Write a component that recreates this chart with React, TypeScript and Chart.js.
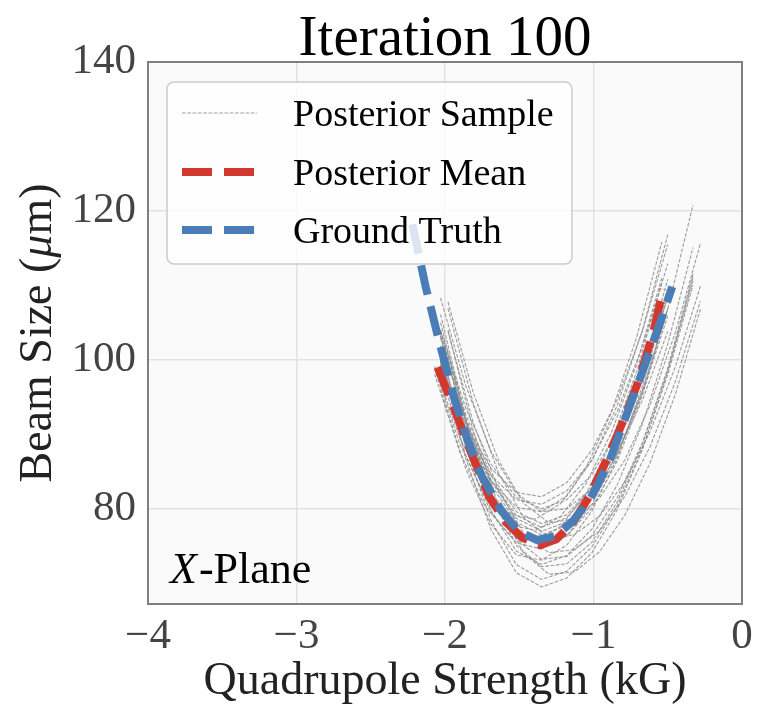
import React, { useEffect, useRef } from "react";
import { Chart, registerables } from "chart.js";

Chart.register(...registerables);

const FONT = "'Liberation Serif', 'Times New Roman', serif";

// Axis ticks
const xTicks = [-4, -3, -2, -1, 0];
const yTicks = [80, 100, 120, 140];
const xRange = [-4, 0];
const yRange = [67.2, 140];

// Ground truth curve
const truthX = [-2.22, -2.13, -2.04, -1.94, -1.85, -1.75, -1.62, -1.5, -1.38, -1.26, -1.14, -1.02, -0.9, -0.78, -0.66, -0.56, -0.47];
const truthY = [118.2, 109.8, 102.5, 95.0, 89.3, 84.3, 79.7, 76.9, 75.8, 76.3, 78.3, 81.4, 86.0, 92.5, 99.0, 104.5, 109.8];

// Posterior mean curve
const meanX = [-2.05, -1.92, -1.81, -1.7, -1.59, -1.48, -1.36, -1.25, -1.14, -1.03, -0.92, -0.81, -0.7, -0.6, -0.53];
const meanY = [99.0, 92.5, 86.8, 81.5, 78.2, 76.1, 75.1, 75.9, 78.1, 81.6, 86.2, 91.3, 97.0, 103.5, 109.5];

// Posterior sample x grids
const gridA = [-2.03, -1.86, -1.69, -1.52, -1.35, -1.18, -1.01, -0.84, -0.67, -0.5, -0.33];
const gridB = [-1.98, -1.81, -1.64, -1.47, -1.3, -1.13, -0.96, -0.79, -0.62, -0.45, -0.28];
const gridC = [-2.07, -1.9, -1.73, -1.56, -1.39, -1.22, -1.05, -0.88, -0.71, -0.54, -0.37];

// Posterior sample y values
const s1 = [103.2, 90.9, 82.1, 76.8, 75.0, 76.3, 80.1, 86.4, 95.3, 106.8, 120.8];
const s2 = [98.8, 88.7, 81.6, 77.8, 77.1, 79.0, 83.4, 90.2, 99.4, 111.0];
const s3 = [105.0, 91.8, 82.1, 75.9, 73.2, 73.6, 76.4, 81.5, 88.9, 98.6, 110.6];
const s4 = [104.0, 93.5, 86.0, 81.5, 80.0, 81.2, 84.6, 90.4, 98.5, 108.9];
const s5 = [99.4, 90.1, 83.7, 80.2, 79.6, 81.7, 86.5, 93.9, 104.0, 116.8];
const s6 = [104.0, 90.5, 80.4, 74.0, 71.2, 71.5, 74.2, 79.1, 86.1, 95.3, 106.8];
const s7 = [100.0, 86.7, 77.2, 71.4, 69.5, 70.7, 74.1, 79.9, 88.0, 98.4, 111.1];
const s8 = [103.9, 92.6, 84.5, 79.6, 78.0, 79.2, 82.9, 88.9, 97.4, 108.4];
const s9 = [99.8, 91.3, 85.4, 82.2, 81.6, 83.5, 87.9, 94.7, 103.9, 115.5];
const s10 = [103.8, 91.6, 82.5, 76.7, 74.1, 74.5, 77.0, 81.6, 88.3, 97.0, 107.9];
const s11 = [103.3, 91.6, 83.2, 78.2, 76.5, 77.7, 81.4, 87.4, 95.9, 106.9];
const s12 = [99.1, 89.5, 82.9, 79.2, 78.6, 80.7, 85.5, 92.9, 103.0, 115.8];
const s13 = [106.1, 92.1, 81.7, 75.1, 72.2, 72.6, 75.5, 80.9, 88.7, 98.9, 111.5];
const s14 = [101.9, 88.2, 78.4, 72.5, 70.5, 71.6, 74.9, 80.4, 88.1, 98.0, 110.0];
const s15 = [99.6, 90.7, 84.5, 81.2, 80.6, 82.4, 86.6, 93.1, 101.8, 112.9];
const s16 = [102.9, 91.8, 83.9, 79.1, 77.5, 78.8, 82.8, 89.5, 98.8, 110.8];
const s17 = [98.3, 87.2, 79.5, 75.4, 74.6, 76.4, 80.6, 87.1, 95.8, 106.9];
const s18 = [108.3, 96.5, 87.7, 82.1, 79.6, 80.0, 82.7, 87.6, 94.6, 103.8];
const s19 = [96.0, 85.3, 77.9, 73.8, 73.1, 75.1, 79.7, 86.8, 96.5, 108.6];
const s20 = [106.9, 94.2, 84.8, 78.8, 76.1, 76.5, 79.0, 83.6, 90.3, 99.0, 109.9];
const s21 = [103.8, 92.1, 83.7, 78.7, 77.0, 78.2, 81.6, 87.4, 95.5, 105.9];
const s22 = [98.1, 87.6, 80.3, 76.3, 75.6, 77.6, 82.0, 89.0, 98.4, 110.3];
const s23 = [107.8, 95.6, 86.5, 80.7, 78.1, 78.6, 81.4, 86.5, 93.9, 103.6, 115.6];
const s24 = [101.6, 88.9, 79.8, 74.3, 72.5, 73.7, 77.3, 83.2, 91.4, 102.1, 115.1];

const samples: { x: number[]; y: number[] }[] = [
  { x: gridA, y: s1 },
  { x: gridC, y: s2 },
  { x: gridA, y: s3 },
  { x: gridA, y: s4 },
  { x: gridA, y: s5 },
  { x: gridB, y: s6 },
  { x: gridA, y: s7 },
  { x: gridA, y: s8 },
  { x: gridA, y: s9 },
  { x: gridB, y: s10 },
  { x: gridA, y: s11 },
  { x: gridC, y: s12 },
  { x: gridA, y: s13 },
  { x: gridA, y: s14 },
  { x: gridA, y: s15 },
  { x: gridA, y: s16 },
  { x: gridA, y: s17 },
  { x: gridA, y: s18 },
  { x: gridA, y: s19 },
  { x: gridB, y: s20 },
  { x: gridA, y: s21 },
  { x: gridC, y: s22 },
  { x: gridB, y: s23 },
  { x: gridA, y: s24 },
];

const titleText = "Iteration 100";
const xTitle = "Quadrupole Strength (kG)";
const legendLabels = ["Posterior Sample", "Posterior Mean", "Ground Truth"];

const RED = "#d3382f";
const BLUE = "#4a7db6";
const GRAY = "rgba(140,140,140,0.85)";

const fmt = (v: number) => (v < 0 ? "\u2212" + Math.abs(v) : String(v));

const decorPlugin = {
  id: "decor",
  beforeDraw(chart: any) {
    const { ctx, chartArea: a } = chart;
    ctx.save();
    ctx.fillStyle = "#ffffff";
    ctx.fillRect(0, 0, chart.width, chart.height);
    ctx.fillStyle = "#fafafa";
    ctx.fillRect(a.left, a.top, a.right - a.left, a.bottom - a.top);
    ctx.restore();
  },
  afterDatasetsDraw(chart: any) {
    const { ctx, chartArea: a } = chart;
    ctx.save();
    // frame
    ctx.strokeStyle = "#808080";
    ctx.lineWidth = 2;
    ctx.strokeRect(a.left, a.top, a.right - a.left, a.bottom - a.top);

    // legend
    const lx = a.left + 19, ly = a.top + 20, lw = 405, lh = 182;
    ctx.beginPath();
    (ctx as any).roundRect(lx, ly, lw, lh, 7);
    ctx.fillStyle = "rgba(255,255,255,0.8)";
    ctx.fill();
    ctx.strokeStyle = "#cccccc";
    ctx.lineWidth = 1.5;
    ctx.stroke();

    const rows = [ly + 31, ly + 90, ly + 148];
    const styles = [
      { c: "rgba(150,150,150,0.9)", w: 1, d: [3.7, 1.6] },
      { c: RED, w: 8, d: [30, 12] },
      { c: BLUE, w: 8, d: [30, 12] },
    ];
    rows.forEach((ry, i) => {
      const st = styles[i];
      ctx.beginPath();
      ctx.strokeStyle = st.c;
      ctx.lineWidth = st.w;
      ctx.setLineDash(st.d);
      ctx.lineCap = "butt";
      ctx.moveTo(lx + 15, ry);
      ctx.lineTo(lx + 90, ry);
      ctx.stroke();
      ctx.setLineDash([]);
      ctx.fillStyle = "#000";
      ctx.font = `38px ${FONT}`;
      ctx.textAlign = "left";
      ctx.textBaseline = "alphabetic";
      ctx.fillText(legendLabels[i], lx + 126, ry + 13);
    });

    // X-Plane annotation
    ctx.fillStyle = "#000";
    ctx.textBaseline = "alphabetic";
    ctx.font = `italic 44px ${FONT}`;
    ctx.fillText("X", a.left + 22, a.bottom - 21);
    const wx = ctx.measureText("X").width;
    ctx.font = `44px ${FONT}`;
    ctx.fillText("-Plane", a.left + 22 + wx + 2, a.bottom - 21);

    // Title
    ctx.textAlign = "center";
    ctx.font = `57px ${FONT}`;
    ctx.fillStyle = "#000";
    ctx.fillText(titleText, (a.left + a.right) / 2, 55);

    // X axis title
    ctx.font = `46px ${FONT}`;
    ctx.fillStyle = "#222";
    ctx.fillText(xTitle, (a.left + a.right) / 2, 694);

    // Y axis title with italic mu
    ctx.save();
    ctx.translate(51, (a.top + a.bottom) / 2);
    ctx.rotate(-Math.PI / 2);
    const parts = [
      { t: "Beam Size (", it: false },
      { t: "\u03bc", it: true },
      { t: "m)", it: false },
    ];
    let total = 0;
    parts.forEach((p) => {
      ctx.font = `${p.it ? "italic " : ""}46px ${FONT}`;
      total += ctx.measureText(p.t).width;
    });
    let cx = -total / 2;
    ctx.textAlign = "left";
    parts.forEach((p) => {
      ctx.font = `${p.it ? "italic " : ""}46px ${FONT}`;
      ctx.fillText(p.t, cx, 0);
      cx += ctx.measureText(p.t).width;
    });
    ctx.restore();

    ctx.restore();
  },
};

export default function App() {
  const ref = useRef<HTMLCanvasElement | null>(null);
  useEffect(() => {
    if (!ref.current) return;
    const datasets: any[] = [];
    datasets.push({
      label: "Ground Truth",
      data: truthX.map((x, i) => ({ x, y: truthY[i] })),
      borderColor: BLUE,
      borderWidth: 8,
      borderDash: [30, 12],
      pointRadius: 0,
      tension: 0,
      order: 0,
    });
    datasets.push({
      label: "Posterior Mean",
      data: meanX.map((x, i) => ({ x, y: meanY[i] })),
      borderColor: RED,
      borderWidth: 8,
      borderDash: [30, 12],
      pointRadius: 0,
      tension: 0,
      order: 1,
    });
    samples.forEach((s) => {
      datasets.push({
        label: "Posterior Sample",
        data: s.x.slice(0, s.y.length).map((x, i) => ({ x, y: s.y[i] })),
        borderColor: GRAY,
        borderWidth: 1.1,
        borderDash: [3.7, 1.6],
        pointRadius: 0,
        tension: 0,
        order: 2,
      });
    });
    const chart = new Chart(ref.current, {
      type: "line",
      data: { datasets },
      plugins: [decorPlugin],
      options: {
        responsive: false,
        animation: false,
        layout: { padding: { top: 62, right: 21, left: 0, bottom: 0 } },
        plugins: {
          legend: { display: false },
          title: { display: false },
          tooltip: { enabled: false },
        },
        scales: {
          x: {
            type: "linear",
            min: xRange[0],
            max: xRange[1],
            afterFit: (s: any) => {
              s.height = 107;
            },
            afterBuildTicks: (s: any) => {
              s.ticks = xTicks.map((v) => ({ value: v }));
            },
            ticks: {
              callback: (v: any) => fmt(Number(v)),
              font: { family: FONT, size: 43 },
              color: "#444",
              padding: 7,
              maxRotation: 0,
              autoSkip: false,
            },
            grid: { color: "#e2e2e2", lineWidth: 1.5, drawTicks: false },
            border: { display: false },
          },
          y: {
            type: "linear",
            min: yRange[0],
            max: yRange[1],
            afterFit: (s: any) => {
              s.width = 148;
            },
            afterBuildTicks: (s: any) => {
              s.ticks = yTicks.map((v) => ({ value: v }));
            },
            ticks: {
              callback: (v: any) => fmt(Number(v)),
              font: { family: FONT, size: 43 },
              color: "#444",
              padding: 12,
              autoSkip: false,
            },
            grid: { color: "#e2e2e2", lineWidth: 1.5, drawTicks: false },
            border: { display: false },
          },
        },
      } as any,
    });
    return () => chart.destroy();
  }, []);
  return (
    <div style={{ position: "fixed", left: 0, top: 0, width: 763, height: 711, background: "#fff" }}>
      <canvas ref={ref} width={763} height={711} style={{ width: 763, height: 711, display: "block" }} />
    </div>
  );
}
